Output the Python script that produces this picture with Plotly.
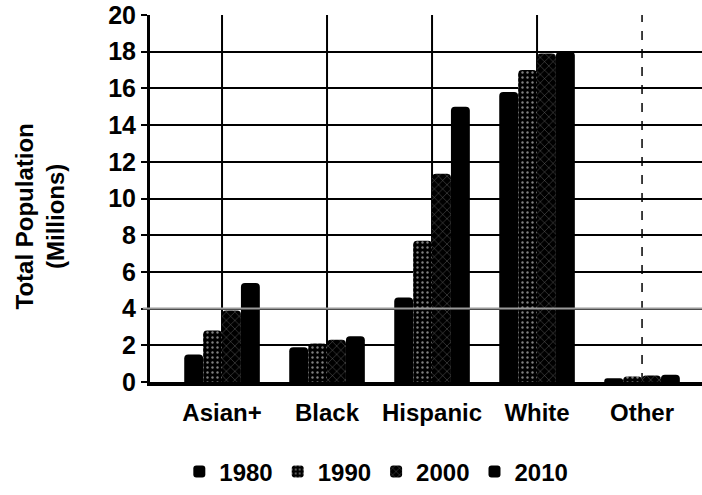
import plotly.graph_objects as go

# Population by group (millions) for each census year
groups = ["Asian+", "Black", "Hispanic", "White", "Other"]
years = ["1980", "1990", "2000", "2010"]
pop_1980 = [1.5, 1.9, 4.6, 15.8, 0.2]
pop_1990 = [2.8, 2.1, 7.7, 17.0, 0.3]
pop_2000 = [3.9, 2.3, 11.35, 17.9, 0.35]
pop_2010 = [5.4, 2.5, 15.0, 18.0, 0.4]
y_ticks = list(range(0, 21, 2))

series = [pop_1980, pop_1990, pop_2000, pop_2010]
patterns = [
    None,
    dict(shape=".", fgcolor="white", size=5, solidity=0.18, fillmode="overlay"),
    dict(shape="x", fgcolor="white", size=6, solidity=0.12, fillmode="overlay"),
    None,
]

FONT = "Liberation Sans, Arial, sans-serif"

fig = go.Figure()
for year, vals, pat in zip(years, series, patterns):
    marker = dict(color="black", line=dict(width=0), cornerradius=4)
    if pat is not None:
        marker["pattern"] = pat
    fig.add_trace(go.Bar(name=year, x=groups, y=vals, marker=marker))

# vertical guide lines through each group, the last one dashed
for i, g in enumerate(groups):
    last = i == len(groups) - 1
    fig.add_shape(
        type="line", xref="x", yref="y", x0=g, x1=g, y0=0, y1=20,
        line=dict(color="black", width=1.5 if last else 2,
                  dash="dash" if last else "solid"),
        layer="below",
    )

# thin grey rule across the chart at the 4 million level
fig.add_shape(
    type="line", xref="paper", yref="y", x0=-0.013, x1=1, y0=4, y1=4,
    line=dict(color="#9a9a9a", width=2), layer="above",
)

fig.add_annotation(
    text="Total Population<br>(Millions)",
    xref="paper", yref="paper", x=-0.2, y=0.45,
    xanchor="center", yanchor="middle", textangle=-90, showarrow=False,
    font=dict(family=FONT, size=24, color="black", weight="bold"),
)

fig.update_layout(
    width=702, height=495,
    margin=dict(l=150, r=0, t=15, b=110),
    paper_bgcolor="white", plot_bgcolor="white",
    barmode="group", bargap=0.28, bargroupgap=0,
    font=dict(family=FONT, color="black", weight="bold"),
    showlegend=True,
    legend=dict(
        orientation="h", x=0.41, xanchor="center", y=-0.245, yanchor="middle",
        font=dict(family=FONT, size=24, color="black", weight="bold"),
        itemclick=False, traceorder="normal",
    ),
    xaxis=dict(
        type="category", range=[-0.686, 4.571],
        showgrid=False, zeroline=False,
        showline=True, linecolor="black", linewidth=4,
        ticks="", ticklabelstandoff=6,
        tickfont=dict(family=FONT, size=24, color="black", weight="bold"),
    ),
    yaxis=dict(
        range=[0, 20], tickvals=y_ticks, ticktext=[str(v) for v in y_ticks],
        showgrid=True, gridcolor="black", gridwidth=2,
        zeroline=False, showline=True, linecolor="black", linewidth=3,
        ticks="outside", ticklen=6, tickwidth=2, tickcolor="black",
        tickfont=dict(family=FONT, size=25, color="black", weight="bold"),
    ),
)

fig.write_html("out.html")
